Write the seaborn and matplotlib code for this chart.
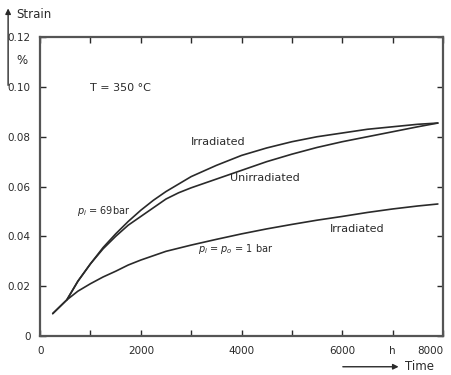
import numpy as np
import matplotlib
matplotlib.use("Agg")
import matplotlib.pyplot as plt
import seaborn as sns
import pandas as pd

# creep strain vs time
t_irr69 = [250, 530, 750, 1000, 1250, 1500, 1750, 2000, 2250, 2500, 2750, 3000,
           3500, 4000, 4500, 5000, 5500, 6000, 6500, 7000, 7500, 7900]
e_irr69 = [0.009, 0.0145, 0.022, 0.029, 0.0355, 0.041, 0.046, 0.0505, 0.0545, 0.058, 0.061, 0.064,
           0.0685, 0.0725, 0.0755, 0.078, 0.080, 0.0815, 0.083, 0.084, 0.085, 0.0855]

t_unirr69 = [250, 530, 750, 1000, 1250, 1500, 1750, 2000, 2250, 2500, 2750, 3000,
             3500, 4000, 4500, 5000, 5500, 6000, 6500, 7000, 7500, 7900]
e_unirr69 = [0.009, 0.0145, 0.022, 0.029, 0.035, 0.040, 0.0445, 0.048, 0.0515, 0.055, 0.0575, 0.0595,
             0.063, 0.0665, 0.070, 0.073, 0.0757, 0.078, 0.080, 0.082, 0.084, 0.0855]

t_irr1 = [530, 750, 1000, 1250, 1500, 1750, 2000, 2500, 3000, 3500, 4000, 4500,
          5000, 5500, 6000, 6500, 7000, 7500, 7900]
e_irr1 = [0.0145, 0.018, 0.021, 0.0237, 0.026, 0.0285, 0.0305, 0.034, 0.0365, 0.0388, 0.041, 0.043,
          0.0448, 0.0465, 0.048, 0.0496, 0.051, 0.0522, 0.053]

xtick_pos = [0, 1000, 2000, 3000, 4000, 5000, 6000, 7000, 8000]
xtick_labels = ["0", "", "2000", "", "4000", "", "6000", "h", "8000"]
yticks = [0, 0.02, 0.04, 0.06, 0.08, 0.10, 0.12]
ytick_labels = ["0", "0.02", "0.04", "0.06", "0.08", "0.10", "0.12"]

df = pd.DataFrame(dict(
    time=t_irr69 + t_unirr69 + t_irr1,
    strain=e_irr69 + e_unirr69 + e_irr1,
    curve=["irr69"] * len(t_irr69) + ["unirr69"] * len(t_unirr69) + ["irr1"] * len(t_irr1),
))

sns.set_style("ticks")
plt.rcParams["font.family"] = ["DejaVu Sans"]
ink = "#2a2a2a"

fig = plt.figure(figsize=(4.51, 3.75), dpi=100)
ax = fig.add_axes([0.089, 0.104, 0.893, 0.797])

sns.lineplot(data=df, x="time", y="strain", units="curve", estimator=None,
             color=ink, linewidth=1.2, sort=False, ax=ax, legend=False)

ax.set_xlim(0, 8000)
ax.set_ylim(0, 0.12)
ax.set_xticks(xtick_pos)
ax.set_xticklabels(xtick_labels, fontsize=7.5, color=ink)
ax.get_xticklabels()[-1].set_horizontalalignment("right")
ax.set_yticks(yticks)
ax.set_yticklabels(ytick_labels, fontsize=7.5, color=ink)
ax.tick_params(direction="in", length=4, width=1, top=True, right=True, colors=ink, pad=7)
for s in ax.spines.values():
    s.set_visible(True)
    s.set_linewidth(1.6)
    s.set_color("#555555")
ax.set_xlabel("")
ax.set_ylabel("")

# curve labels
ax.text(1000, 0.0995, "T = 350 °C", fontsize=8, color=ink, va="center")
ax.text(3000, 0.078, "Irradiated", fontsize=8, color=ink, va="center")
ax.text(3770, 0.0635, "Unirradiated", fontsize=8, color=ink, va="center")
ax.text(730, 0.050, r"$p_i$ = 69bar", fontsize=7, color=ink, va="center")
ax.text(5750, 0.043, "Irradiated", fontsize=8, color=ink, va="center")
ax.text(3130, 0.035, r"$p_i$ = $p_o$ = 1 bar", fontsize=7, color=ink, va="center")

# axis names with arrows
fig.text(0.035, 0.962, "Strain", fontsize=8.5, color=ink, va="center")
fig.text(0.048, 0.84, "%", fontsize=8.5, color=ink, va="center", ha="center")
fig.patches.append(matplotlib.patches.FancyArrowPatch(
    (0.018, 0.765), (0.018, 0.985), transform=fig.transFigure,
    arrowstyle="-|>", mutation_scale=8, color=ink, lw=1))
fig.text(0.898, 0.022, "Time", fontsize=8.5, color=ink, va="center")
fig.patches.append(matplotlib.patches.FancyArrowPatch(
    (0.754, 0.022), (0.89, 0.022), transform=fig.transFigure,
    arrowstyle="-|>", mutation_scale=8, color=ink, lw=1))

fig.savefig("out.png", dpi=100)
